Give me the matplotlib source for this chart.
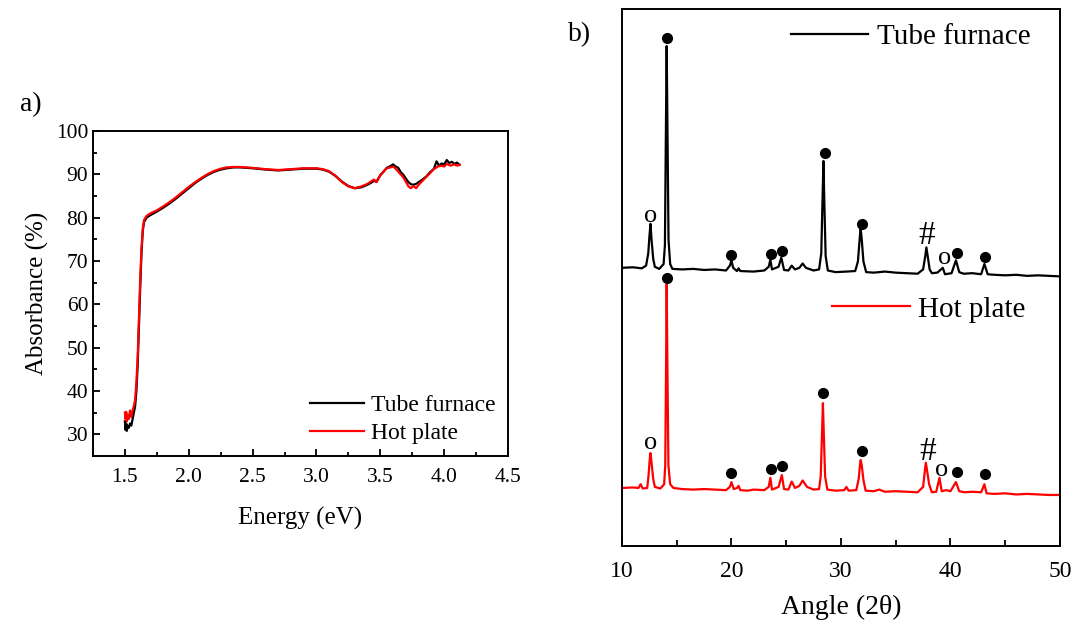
import numpy as np
import matplotlib
matplotlib.use("Agg")
import matplotlib.pyplot as plt
from matplotlib.ticker import MultipleLocator

plt.rcParams['font.family'] = ['Liberation Serif', 'DejaVu Serif']
plt.rcParams['mathtext.fontset'] = 'stix'

# ---- panel a) absorbance ----
e_tube = [1.500, 1.505, 1.51, 1.515, 1.52, 1.53, 1.54, 1.55, 1.56, 1.57, 1.58, 1.59, 1.60,
          1.61, 1.62, 1.63, 1.64, 1.65, 1.67, 1.70, 1.75, 1.80, 1.85, 1.90, 1.95, 2.00, 2.05,
          2.10, 2.15, 2.20, 2.25, 2.30, 2.35, 2.40, 2.50, 2.60, 2.70, 2.80, 2.90, 3.00, 3.05,
          3.10, 3.15, 3.20, 3.25, 3.30, 3.35, 3.40, 3.43, 3.45, 3.47, 3.50, 3.53, 3.55, 3.58,
          3.60, 3.62, 3.64, 3.66, 3.68, 3.70, 3.72, 3.74, 3.76, 3.78, 3.80, 3.83, 3.86, 3.89,
          3.92, 3.94, 3.96, 3.98, 4.00, 4.02, 4.04, 4.06, 4.08, 4.10, 4.12]
a_tube = [33.0, 31.0, 32.5, 30.8, 32.0, 31.5, 32.5, 32.0, 33.5, 35.0, 36.5, 40.0, 46.0,
          55.0, 64.0, 72.0, 77.0, 79.0, 80.0, 80.6, 81.4, 82.3, 83.3, 84.4, 85.6, 86.8, 88.0,
          89.0, 89.9, 90.6, 91.1, 91.4, 91.6, 91.6, 91.4, 91.1, 90.9, 91.1, 91.3, 91.3, 91.1,
          90.6, 89.6, 88.3, 87.3, 86.8, 87.0, 87.6, 88.1, 88.5, 88.3, 89.8, 90.8, 91.5, 91.9,
          92.3, 91.8, 91.5, 90.5, 89.9, 89.0, 88.2, 87.7, 87.6, 87.8, 88.2, 88.8, 89.5, 90.5,
          91.3, 93.0, 92.0, 92.5, 92.3, 93.3, 92.6, 92.9, 92.4, 92.7, 92.2]

e_hot = [1.500, 1.505, 1.51, 1.515, 1.52, 1.53, 1.54, 1.55, 1.56, 1.57, 1.58, 1.59, 1.60,
         1.61, 1.62, 1.63, 1.64, 1.65, 1.67, 1.70, 1.75, 1.80, 1.85, 1.90, 1.95, 2.00, 2.05,
         2.10, 2.15, 2.20, 2.25, 2.30, 2.35, 2.40, 2.50, 2.60, 2.70, 2.80, 2.90, 3.00, 3.05,
         3.10, 3.15, 3.20, 3.25, 3.30, 3.35, 3.40, 3.45, 3.47, 3.50, 3.55, 3.58, 3.60, 3.62,
         3.65, 3.68, 3.70, 3.72, 3.74, 3.76, 3.78, 3.80, 3.83, 3.86, 3.89, 3.92, 3.95, 3.98,
         4.00, 4.02, 4.05, 4.08, 4.10, 4.12]
a_hot = [35.0, 33.5, 35.2, 33.0, 34.5, 33.5, 35.5, 34.0, 35.5, 36.5, 38.0, 42.0, 48.0,
         57.0, 66.0, 73.0, 77.5, 79.5, 80.4, 81.0, 81.7, 82.6, 83.6, 84.7, 85.9, 87.1, 88.2,
         89.2, 90.1, 90.8, 91.3, 91.6, 91.7, 91.7, 91.5, 91.2, 91.0, 91.2, 91.4, 91.4, 91.2,
         90.7, 89.6, 88.2, 87.2, 86.8, 87.2, 87.8, 88.8, 88.2, 89.8, 91.4, 91.6, 91.8, 91.3,
         90.3, 89.3, 88.3, 87.2, 86.8, 87.3, 86.8, 87.6, 88.5, 89.4, 90.3, 91.2, 91.8, 92.0,
         91.8, 92.4, 92.0, 92.3, 92.0, 92.2]

# ---- panel b) XRD ----
tt_tube = [10.0, 11.0, 11.8, 12.2, 12.4, 12.5, 12.6, 12.7, 12.85, 13.0, 13.4, 13.8, 13.92,
           14.0, 14.08, 14.16, 14.25, 14.4, 14.6, 15.5, 16.5, 17.5, 18.5, 19.5, 19.85, 20.0,
           20.15, 20.5, 20.65, 20.8, 22.0, 23.0, 23.4, 23.55, 23.7, 24.3, 24.55, 24.8, 25.2,
           25.5, 25.8, 26.2, 26.5, 26.8, 27.5, 28.0, 28.2, 28.32, 28.4, 28.48, 28.6, 28.8,
           29.5, 30.5, 31.3, 31.55, 31.72, 31.8, 31.9, 32.05, 32.3, 33.0, 34.0, 35.0, 36.0,
           37.0, 37.5, 37.7, 37.8, 37.92, 38.1, 38.3, 38.8, 39.3, 39.5, 40.1, 40.5, 40.8,
           41.2, 42.0, 42.8, 43.1, 43.4, 44.0, 45.0, 46.0, 47.0, 48.0, 49.0, 50.0]
i_tube = [51.8, 51.9, 51.7, 52.2, 54.5, 57.5, 60.0, 57.0, 53.5, 52.0, 51.6, 52.5, 56.0,
          75.0, 93.1, 76.0, 57.0, 52.5, 51.6, 51.5, 51.6, 51.4, 51.5, 51.3, 52.2, 53.2,
          51.8, 51.2, 51.7, 51.2, 51.1, 51.3, 52.0, 53.3, 51.5, 52.0, 53.7, 51.4, 51.3,
          52.2, 51.5, 51.8, 52.6, 51.8, 51.3, 51.5, 54.5, 65.0, 71.7, 64.0, 54.0, 51.3,
          51.0, 51.1, 51.2, 53.0, 57.5, 59.1, 57.0, 53.0, 51.0, 50.9, 51.1, 50.9, 50.8,
          50.7, 51.5, 54.0, 55.6, 54.0, 51.5, 50.8, 50.9, 51.8, 50.6, 50.8, 53.2, 51.0,
          50.7, 50.8, 50.6, 52.5, 50.6, 50.5, 50.4, 50.5, 50.3, 50.4, 50.3, 50.2]

tt_hot = [10.0, 11.0, 11.5, 11.7, 11.9, 12.3, 12.42, 12.52, 12.6, 12.7, 12.85, 13.0, 13.5,
          13.85, 13.95, 14.02, 14.08, 14.15, 14.24, 14.4, 14.7, 15.5, 16.5, 17.5, 18.5, 19.5,
          19.85, 20.0, 20.2, 20.5, 20.65, 20.8, 21.5, 22.0, 23.0, 23.4, 23.55, 23.7, 24.3,
          24.6, 24.8, 25.2, 25.5, 25.8, 26.2, 26.5, 26.9, 27.5, 28.0, 28.15, 28.27, 28.35,
          28.43, 28.55, 28.75, 29.5, 30.3, 30.5, 30.7, 31.4, 31.62, 31.74, 31.8, 31.9, 32.05,
          32.25, 33.0, 33.5, 34.0, 35.0, 36.0, 37.0, 37.5, 37.65, 37.75, 37.87, 38.05, 38.3,
          38.7, 39.0, 39.2, 39.6, 40.0, 40.5, 40.8, 41.3, 42.0, 42.8, 43.1, 43.3, 44.0, 45.0,
          46.0, 47.0, 48.0, 49.0, 50.0]
i_hot = [10.8, 10.9, 10.8, 11.5, 10.7, 10.8, 13.0, 15.8, 17.3, 15.5, 12.5, 11.0, 10.7,
         11.5, 15.0, 32.0, 48.8, 33.0, 15.0, 11.5, 10.8, 10.6, 10.5, 10.6, 10.5, 10.4,
         11.0, 11.9, 10.6, 10.8, 11.2, 10.4, 10.3, 10.5, 10.4, 11.0, 12.7, 10.5, 11.0,
         13.2, 10.6, 10.5, 12.0, 10.8, 11.2, 12.2, 11.0, 10.5, 10.6, 13.0, 21.0, 26.6,
         21.0, 13.0, 10.5, 10.3, 10.4, 11.0, 10.3, 10.4, 12.5, 15.2, 16.0, 15.0, 12.3,
         10.3, 10.2, 10.5, 10.1, 10.2, 10.1, 10.0, 11.0, 13.8, 15.5, 14.0, 11.5, 10.0,
         10.1, 12.7, 10.2, 10.4, 10.2, 11.9, 10.2, 10.0, 10.1, 10.0, 11.5, 9.8, 9.7,
         9.8, 9.6, 9.7, 9.6, 9.5, 9.5]

# phase marks: filled dots, 'o' and '#'
dot_x_tube = [14.1, 20.0, 23.6, 24.6, 28.5, 31.9, 40.6, 43.2]
dot_y_tube = [94.6, 54.2, 54.4, 54.9, 73.2, 60.0, 54.6, 53.8]
dot_x_hot = [14.1, 20.0, 23.6, 24.6, 28.4, 31.9, 40.6, 43.2]
dot_y_hot = [49.9, 13.6, 14.3, 14.9, 28.5, 17.7, 13.8, 13.4]
txt_tube = [(12.65, 61.5, 'o'), (37.8, 57.7, '#'), (39.5, 53.6, 'o')]
txt_hot = [(12.6, 19.2, 'o'), (37.9, 17.5, '#'), (39.2, 14.2, 'o')]

fig = plt.figure(figsize=(10.75, 6.28), dpi=100)

ax1 = fig.add_axes([0.0865, 0.2739, 0.3861, 0.5175])
ax1.plot(e_tube, a_tube, color='black', lw=1.6, label='Tube furnace')
ax1.plot(e_hot, a_hot, color='red', lw=1.6, label='Hot plate')
ax1.set_xlim(1.25, 4.5)
ax1.set_ylim(25, 100)
ax1.xaxis.set_minor_locator(MultipleLocator(0.25))
ax1.yaxis.set_minor_locator(MultipleLocator(5))
ax1.set_xticks([1.5, 2.0, 2.5, 3.0, 3.5, 4.0, 4.5])
ax1.set_yticks([30, 40, 50, 60, 70, 80, 90, 100])
ax1.tick_params(which='both', direction='in', labelsize=15.5, width=1.3)
ax1.tick_params(which='major', length=5)
ax1.tick_params(axis='x', which='major', pad=9)
ax1.tick_params(which='minor', length=3)
ax1.set_xlabel('Energy (eV)', fontsize=18, labelpad=14)
ax1.set_ylabel('Absorbance (%)', fontsize=18, labelpad=5)
for s in ax1.spines.values():
    s.set_linewidth(1.4)
ax1.legend(loc='lower right', bbox_to_anchor=(1.022, -0.03), frameon=False, fontsize=17,
           handlelength=2.3, handletextpad=0.3, labelspacing=0.3)
fig.text(0.019, 0.823, 'a)', fontsize=20)

ax2 = fig.add_axes([0.5786, 0.1306, 0.4074, 0.8551])
l1, = ax2.plot(tt_tube, i_tube, color='black', lw=1.6)
l2, = ax2.plot(tt_hot, i_hot, color='red', lw=1.6)
ax2.plot(dot_x_tube, dot_y_tube, 'o', color='black', ms=7)
ax2.plot(dot_x_hot, dot_y_hot, 'o', color='black', ms=7)
for x, y, t in txt_tube + txt_hot:
    fs = 24 if t == '#' else 19
    ax2.text(x, y, t, ha='center', va='center', fontsize=fs)
ax2.set_xlim(10, 50)
ax2.set_ylim(0, 100)
ax2.set_yticks([])
ax2.xaxis.set_major_locator(MultipleLocator(10))
ax2.xaxis.set_minor_locator(MultipleLocator(5))
ax2.tick_params(which='both', direction='in', labelsize=17, width=1.3)
ax2.tick_params(which='major', length=6, pad=11)
ax2.tick_params(which='minor', length=4)
ax2.set_xlabel('Angle (2\u03b8)', fontsize=20, labelpad=9)
for s in ax2.spines.values():
    s.set_linewidth(1.4)
leg1 = ax2.legend([l1], ['Tube furnace'], loc='upper right', bbox_to_anchor=(0.993, 1.022),
                  frameon=False, fontsize=21, handlelength=2.65, handletextpad=0.3)
ax2.add_artist(leg1)
ax2.legend([l2], ['Hot plate'], loc='upper right', bbox_to_anchor=(0.982, 0.514),
           frameon=False, fontsize=21, handlelength=2.65, handletextpad=0.3)
fig.text(0.528, 0.935, 'b)', fontsize=20)

fig.savefig('out.png', dpi=100)
